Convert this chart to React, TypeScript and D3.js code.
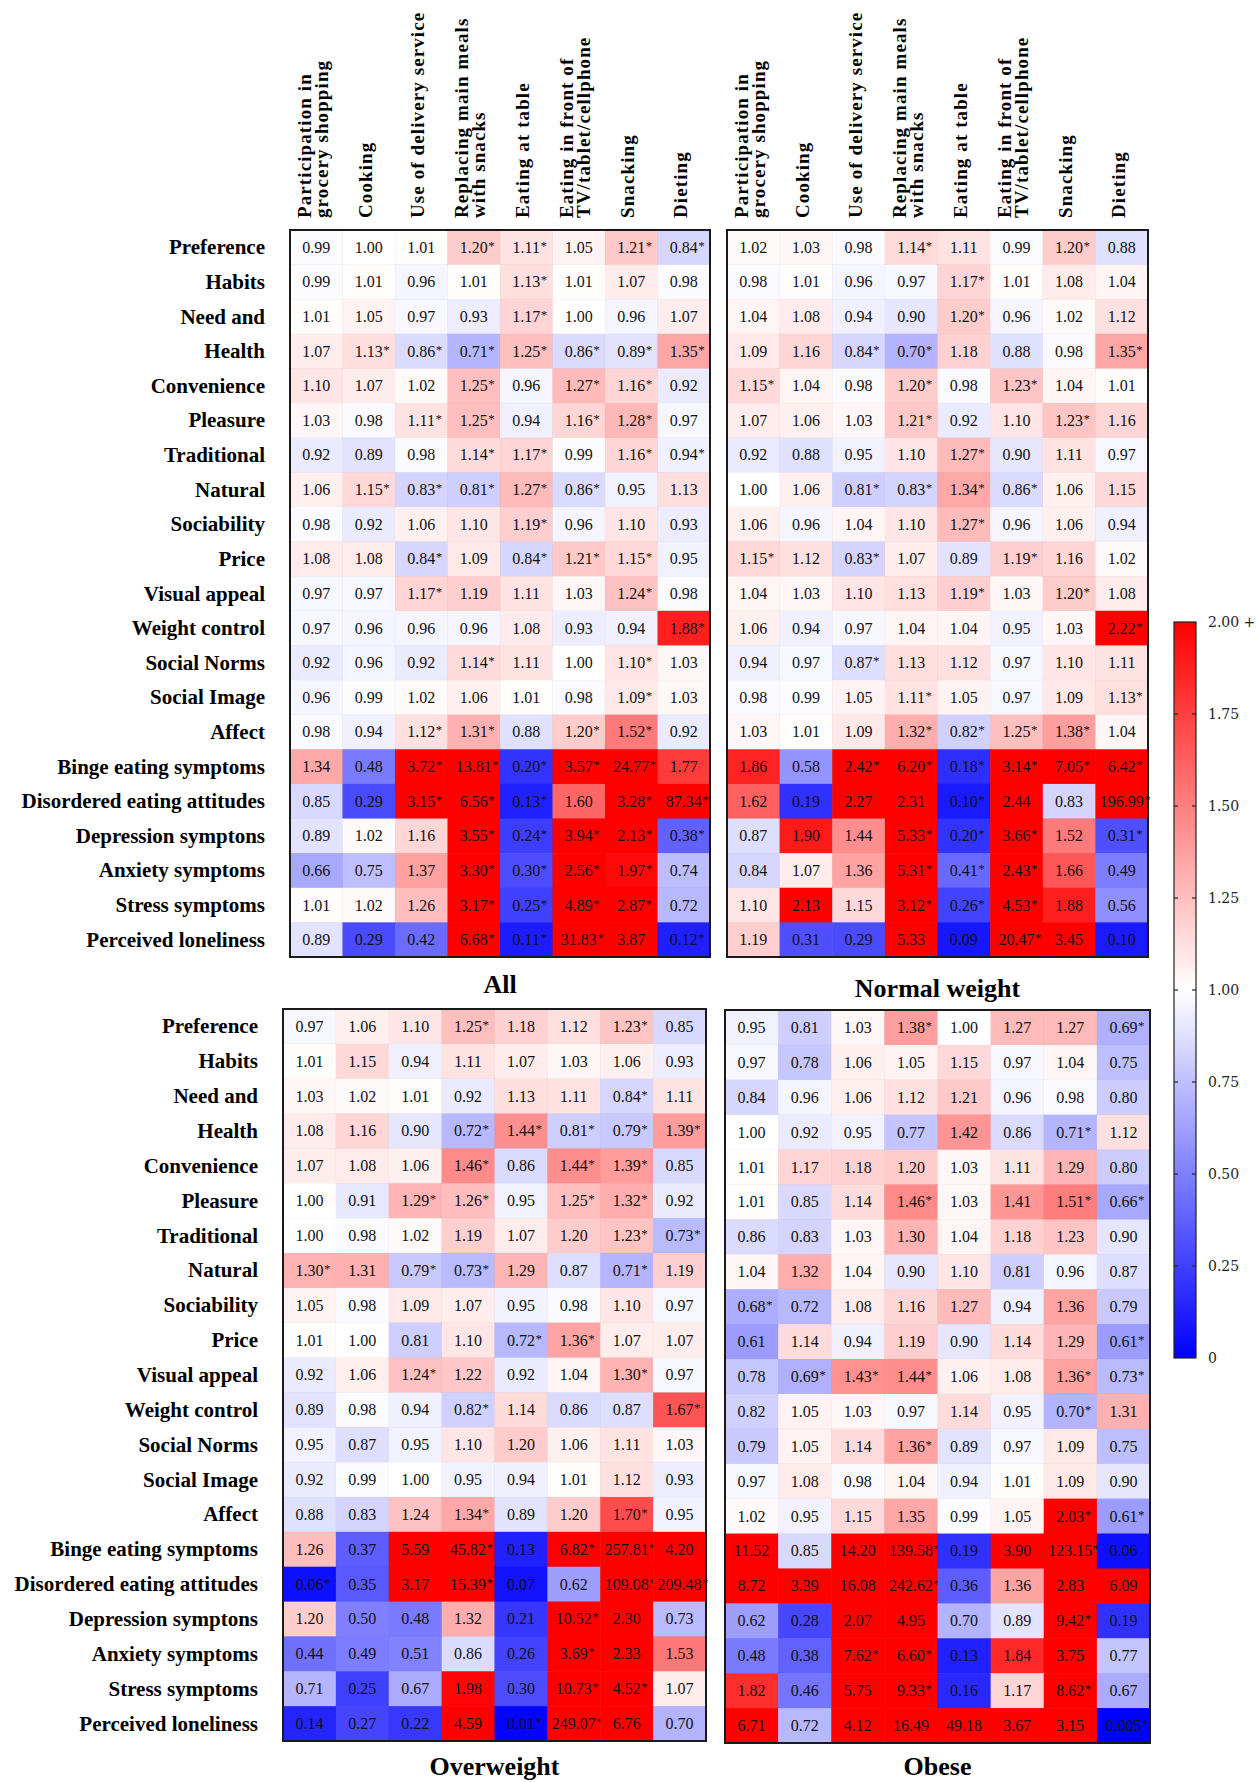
import { useMemo } from 'react';
import * as d3 from 'd3';

// Odds ratios per food-choice motive / mental-health item (rows) x eating behaviour (columns).
// "*" marks a significant estimate.
const rowLabels = [
  'Preference', 'Habits', 'Need and', 'Health', 'Convenience', 'Pleasure', 'Traditional',
  'Natural', 'Sociability', 'Price', 'Visual appeal', 'Weight control', 'Social Norms',
  'Social Image', 'Affect', 'Binge eating symptoms', 'Disordered eating attitudes',
  'Depression symptons', 'Anxiety symptoms', 'Stress symptoms', 'Perceived loneliness',
];

const colLabels = [
  ['Participation in', 'grocery shopping'],
  ['Cooking'],
  ['Use of delivery service'],
  ['Replacing main meals', 'with snacks'],
  ['Eating at table'],
  ['Eating in front of', 'TV/tablet/cellphone'],
  ['Snacking'],
  ['Dieting'],
];

const allValues = [
  '0.99 1.00 1.01 1.20* 1.11* 1.05 1.21* 0.84*',
  '0.99 1.01 0.96 1.01 1.13* 1.01 1.07 0.98',
  '1.01 1.05 0.97 0.93 1.17* 1.00 0.96 1.07',
  '1.07 1.13* 0.86* 0.71* 1.25* 0.86* 0.89* 1.35*',
  '1.10 1.07 1.02 1.25* 0.96 1.27* 1.16* 0.92',
  '1.03 0.98 1.11* 1.25* 0.94 1.16* 1.28* 0.97',
  '0.92 0.89 0.98 1.14* 1.17* 0.99 1.16* 0.94*',
  '1.06 1.15* 0.83* 0.81* 1.27* 0.86* 0.95 1.13',
  '0.98 0.92 1.06 1.10 1.19* 0.96 1.10 0.93',
  '1.08 1.08 0.84* 1.09 0.84* 1.21* 1.15* 0.95',
  '0.97 0.97 1.17* 1.19 1.11 1.03 1.24* 0.98',
  '0.97 0.96 0.96 0.96 1.08 0.93 0.94 1.88*',
  '0.92 0.96 0.92 1.14* 1.11 1.00 1.10* 1.03',
  '0.96 0.99 1.02 1.06 1.01 0.98 1.09* 1.03',
  '0.98 0.94 1.12* 1.31* 0.88 1.20* 1.52* 0.92',
  '1.34 0.48 3.72* 13.81* 0.20* 3.57* 24.77* 1.77',
  '0.85 0.29 3.15* 6.56* 0.13* 1.60 3.28* 87.34*',
  '0.89 1.02 1.16 3.55* 0.24* 3.94* 2.13* 0.38*',
  '0.66 0.75 1.37 3.30* 0.30* 2.56* 1.97* 0.74',
  '1.01 1.02 1.26 3.17* 0.25* 4.89* 2.87* 0.72',
  '0.89 0.29 0.42 6.68* 0.11* 31.83* 3.87 0.12*',
];

const normalValues = [
  '1.02 1.03 0.98 1.14* 1.11 0.99 1.20* 0.88',
  '0.98 1.01 0.96 0.97 1.17* 1.01 1.08 1.04',
  '1.04 1.08 0.94 0.90 1.20* 0.96 1.02 1.12',
  '1.09 1.16 0.84* 0.70* 1.18 0.88 0.98 1.35*',
  '1.15* 1.04 0.98 1.20* 0.98 1.23* 1.04 1.01',
  '1.07 1.06 1.03 1.21* 0.92 1.10 1.23* 1.16',
  '0.92 0.88 0.95 1.10 1.27* 0.90 1.11 0.97',
  '1.00 1.06 0.81* 0.83* 1.34* 0.86* 1.06 1.15',
  '1.06 0.96 1.04 1.10 1.27* 0.96 1.06 0.94',
  '1.15* 1.12 0.83* 1.07 0.89 1.19* 1.16 1.02',
  '1.04 1.03 1.10 1.13 1.19* 1.03 1.20* 1.08',
  '1.06 0.94 0.97 1.04 1.04 0.95 1.03 2.22*',
  '0.94 0.97 0.87* 1.13 1.12 0.97 1.10 1.11',
  '0.98 0.99 1.05 1.11* 1.05 0.97 1.09 1.13*',
  '1.03 1.01 1.09 1.32* 0.82* 1.25* 1.38* 1.04',
  '1.86 0.58 2.42* 6.20* 0.18* 3.14* 7.05* 6.42*',
  '1.62 0.19 2.27 2.31 0.10* 2.44 0.83 196.99*',
  '0.87 1.90 1.44 5.33* 0.20* 3.66* 1.52 0.31*',
  '0.84 1.07 1.36 5.31* 0.41* 2.43* 1.66 0.49',
  '1.10 2.13 1.15 3.12* 0.26* 4.53* 1.88 0.56',
  '1.19 0.31 0.29 5.33 0.09 20.47* 3.45 0.10',
];

const overweightValues = [
  '0.97 1.06 1.10 1.25* 1.18 1.12 1.23* 0.85',
  '1.01 1.15 0.94 1.11 1.07 1.03 1.06 0.93',
  '1.03 1.02 1.01 0.92 1.13 1.11 0.84* 1.11',
  '1.08 1.16 0.90 0.72* 1.44* 0.81* 0.79* 1.39*',
  '1.07 1.08 1.06 1.46* 0.86 1.44* 1.39* 0.85',
  '1.00 0.91 1.29* 1.26* 0.95 1.25* 1.32* 0.92',
  '1.00 0.98 1.02 1.19 1.07 1.20 1.23* 0.73*',
  '1.30* 1.31 0.79* 0.73* 1.29 0.87 0.71* 1.19',
  '1.05 0.98 1.09 1.07 0.95 0.98 1.10 0.97',
  '1.01 1.00 0.81 1.10 0.72* 1.36* 1.07 1.07',
  '0.92 1.06 1.24* 1.22 0.92 1.04 1.30* 0.97',
  '0.89 0.98 0.94 0.82* 1.14 0.86 0.87 1.67*',
  '0.95 0.87 0.95 1.10 1.20 1.06 1.11 1.03',
  '0.92 0.99 1.00 0.95 0.94 1.01 1.12 0.93',
  '0.88 0.83 1.24 1.34* 0.89 1.20 1.70* 0.95',
  '1.26 0.37 5.59 45.82* 0.13 6.82* 257.81* 4.20',
  '0.06* 0.35 3.17 15.39* 0.07 0.62 109.08* 209.48*',
  '1.20 0.50 0.48 1.32 0.21 10.52* 2.30 0.73',
  '0.44 0.49 0.51 0.86 0.26 3.69* 2.33 1.53',
  '0.71 0.25 0.67 1.98 0.30 10.73* 4.52* 1.07',
  '0.14 0.27 0.22 4.59 0.01* 249.07* 6.76 0.70',
];

const obeseValues = [
  '0.95 0.81 1.03 1.38* 1.00 1.27 1.27 0.69*',
  '0.97 0.78 1.06 1.05 1.15 0.97 1.04 0.75',
  '0.84 0.96 1.06 1.12 1.21 0.96 0.98 0.80',
  '1.00 0.92 0.95 0.77 1.42 0.86 0.71* 1.12',
  '1.01 1.17 1.18 1.20 1.03 1.11 1.29 0.80',
  '1.01 0.85 1.14 1.46* 1.03 1.41 1.51* 0.66*',
  '0.86 0.83 1.03 1.30 1.04 1.18 1.23 0.90',
  '1.04 1.32 1.04 0.90 1.10 0.81 0.96 0.87',
  '0.68* 0.72 1.08 1.16 1.27 0.94 1.36 0.79',
  '0.61 1.14 0.94 1.19 0.90 1.14 1.29 0.61*',
  '0.78 0.69* 1.43* 1.44* 1.06 1.08 1.36* 0.73*',
  '0.82 1.05 1.03 0.97 1.14 0.95 0.70* 1.31',
  '0.79 1.05 1.14 1.36* 0.89 0.97 1.09 0.75',
  '0.97 1.08 0.98 1.04 0.94 1.01 1.09 0.90',
  '1.02 0.95 1.15 1.35 0.99 1.05 2.03* 0.61*',
  '11.52 0.85 14.20 139.58* 0.19 3.90 123.15* 0.06',
  '8.72 3.39 16.08 242.62* 0.36 1.36 2.83 6.09',
  '0.62 0.28 2.07 4.95 0.70 0.89 9.42* 0.19',
  '0.48 0.38 7.62* 6.60* 0.13 1.84 3.75 0.77',
  '1.82 0.46 5.75 9.33* 0.16 1.17 8.62* 0.67',
  '6.71 0.72 4.12 16.49 49.18 3.67 3.15 0.005*',
];

const legendTicks = [0, 0.25, 0.5, 0.75, 1, 1.25, 1.5, 1.75, 2];

const panels = [
  { title: 'All', rows: allValues, x: 290, y: 230, w: 420, h: 727, header: true, labels: true, titleY: 993 },
  { title: 'Normal weight', rows: normalValues, x: 727, y: 230, w: 421, h: 727, header: true, labels: false, titleY: 997 },
  { title: 'Overweight', rows: overweightValues, x: 283, y: 1009, w: 423, h: 732, header: false, labels: true, titleY: 1775 },
  { title: 'Obese', rows: obeseValues, x: 725, y: 1010, w: 425, h: 733, header: false, labels: false, titleY: 1775 },
];

const SERIF = "'Liberation Serif', 'Times New Roman', serif";
const CELL_FONT = 16;

const color = d3.scaleLinear<string>()
  .domain([0, 1, 2])
  .range(['#0000ff', '#ffffff', '#ff0000'])
  .clamp(true);

let ctx: CanvasRenderingContext2D | null = null;
function textWidth(s: string, font: string) {
  if (!ctx) ctx = document.createElement('canvas').getContext('2d');
  if (!ctx) return s.length * 8;
  ctx.font = font;
  return ctx.measureText(s).width;
}

function Panel({ p }: { p: typeof panels[number] }) {
  const cells = useMemo(() => p.rows.map((r) => r.split(' ')), [p.rows]);
  const x = d3.scaleBand<number>().domain(d3.range(8)).range([p.x, p.x + p.w]);
  const y = d3.scaleBand<number>().domain(d3.range(rowLabels.length)).range([p.y, p.y + p.h]);
  const bw = x.bandwidth();
  const bh = y.bandwidth();

  return (
    <g>
      {cells.map((row, i) =>
        row.map((tok, j) => {
          const sig = tok.endsWith('*');
          const label = tok.replace('*', '');
          const v = parseFloat(label);
          const fs = label.length > 5 && v < 1 ? 11 : CELL_FONT;
          const cx = (x(j) ?? 0) + bw / 2;
          const cy = (y(i) ?? 0) + bh / 2;
          const tw = textWidth(label, `${fs}px ${SERIF}`);
          return (
            <g key={`${i}-${j}`}>
              <rect x={x(j)} y={y(i)} width={bw + 0.5} height={bh + 0.5} fill={color(v)}
                stroke="rgba(0,0,0,0.05)" strokeWidth={0.5} />
              <text x={cx} y={cy + fs * 0.34} textAnchor="middle" fontSize={fs} fontFamily={SERIF} fill="#111">
                {label}
              </text>
              {sig && (
                <text x={cx + tw / 2 + 0.5} y={cy + fs * 0.34 - 3} fontSize={13} fontFamily={SERIF} fill="#111">*</text>
              )}
            </g>
          );
        })
      )}
      <rect x={p.x} y={p.y} width={p.w} height={p.h} fill="none" stroke="#1a1a1a" strokeWidth={2} />

      {p.labels && rowLabels.map((lab, i) => (
        <text key={lab} x={p.x - 25} y={(y(i) ?? 0) + bh / 2 + 7} textAnchor="end"
          fontSize={21} fontWeight="bold" fontFamily={SERIF} fill="#000">{lab}</text>
      ))}

      {p.header && colLabels.map((lines, j) => {
        const cx = (x(j) ?? 0) + bw / 2 - 4;
        const gap = 17;
        return lines.map((ln, k) => {
          const off = (k - (lines.length - 1) / 2) * gap;
          const tx = cx + off + 7;
          return (
            <text key={`${j}-${k}`} transform={`translate(${tx},218) rotate(-90)`}
              fontSize={19} fontWeight="bold" fontFamily={SERIF} letterSpacing={1.1} fill="#000">{ln}</text>
          );
        });
      })}

      <text x={p.x + p.w / 2} y={p.titleY} textAnchor="middle" fontSize={26} fontWeight="bold"
        fontFamily={SERIF} fill="#000">{p.title}</text>
    </g>
  );
}

function ColorBar() {
  const bx = 1174;
  const bwid = 22;
  const ly = d3.scaleLinear().domain([0, 2]).range([1358, 622]);
  return (
    <g>
      <defs>
        <linearGradient id="cbar" x1="0" y1="1" x2="0" y2="0">
          <stop offset="0" stopColor={color(0)} />
          <stop offset="0.5" stopColor={color(1)} />
          <stop offset="1" stopColor={color(2)} />
        </linearGradient>
      </defs>
      <rect x={bx} y={ly(2)} width={bwid} height={ly(0) - ly(2)} fill="url(#cbar)" stroke="#222" strokeWidth={1.2} />
      {legendTicks.map((t) => (
        <g key={t}>
          {t > 0 && t < 2 && (
            <>
              <line x1={bx} x2={bx + 4} y1={ly(t)} y2={ly(t)} stroke="#222" strokeWidth={1.2} />
              <line x1={bx + bwid - 4} x2={bx + bwid} y1={ly(t)} y2={ly(t)} stroke="#222" strokeWidth={1.2} />
            </>
          )}
          <text x={bx + bwid + 12} y={ly(t) + 5} fontSize={14} fontFamily="'DejaVu Serif', serif" fill="#222">
            {t === 0 ? '0' : t === 2 ? '2.00 +' : d3.format('.2f')(t)}
          </text>
        </g>
      ))}
    </g>
  );
}

export default function App() {
  return (
    <svg width={1257} height={1782} viewBox="0 0 1257 1782"
      style={{ position: 'absolute', left: 0, top: 0, background: '#fff' }}>
      <rect width={1257} height={1782} fill="#fff" />
      {panels.map((p) => <Panel key={p.title} p={p} />)}
      <ColorBar />
    </svg>
  );
}
